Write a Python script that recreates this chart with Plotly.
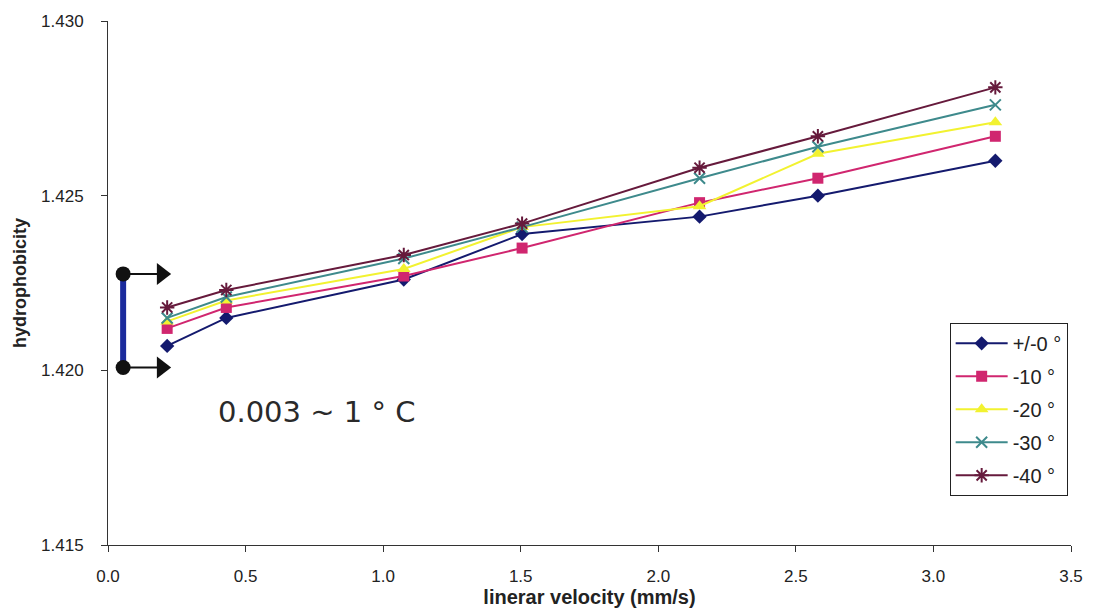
import plotly.graph_objects as go

# ---- data ----
velocity = [0.215, 0.43, 1.075, 1.505, 2.15, 2.58, 3.225]
series_names = ["+/-0 °", "-10 °", "-20 °", "-30 °", "-40 °"]
s_0 = [1.4207, 1.4215, 1.4226, 1.4239, 1.4244, 1.4250, 1.4260]
s_10 = [1.4212, 1.4218, 1.4227, 1.4235, 1.4248, 1.4255, 1.4267]
s_20 = [1.4214, 1.4220, 1.4229, 1.4241, 1.4247, 1.4262, 1.4271]
s_30 = [1.4215, 1.4221, 1.4232, 1.4241, 1.4255, 1.4264, 1.4276]
s_40 = [1.4218, 1.4223, 1.4233, 1.4242, 1.4258, 1.4267, 1.4281]
x_ticks = [0.0, 0.5, 1.0, 1.5, 2.0, 2.5, 3.0, 3.5]
y_ticks = [1.415, 1.420, 1.425, 1.430]

# scale bracket (0.003 ~ 1 °C)
bracket_x = 0.055
bracket_y = [1.42276, 1.42008]
arrow_end_x = 0.195
note_text = "0.003 ~ 1 ° C"
note_x, note_y = 0.756, 1.41882

colors = ["#141a6e", "#d0266f", "#f2f230", "#3e8a8c", "#661a3c"]
symbols = ["diamond", "square", "triangle-up", "x-thin-open", "asterisk-open"]
msizes = [11, 11, 12, 11, 12]
all_series = [s_0, s_10, s_20, s_30, s_40]

FONT = "Liberation Sans, Arial, sans-serif"

fig = go.Figure()
for i, (name, ys) in enumerate(zip(series_names, all_series)):
    open_sym = symbols[i].endswith("open")
    fig.add_trace(go.Scatter(
        x=velocity, y=ys, name=name, mode="lines+markers",
        legendgroup=f"g{i}",
        line=dict(color=colors[i], width=2),
        marker=dict(symbol=symbols[i], size=msizes[i], color=colors[i],
                    line=dict(color=colors[i], width=2 if open_sym else 0)),
    ))

# bracket: vertical bar with end dots
fig.add_trace(go.Scatter(
    x=[bracket_x, bracket_x], y=bracket_y, mode="lines",
    line=dict(color="#1a2a9c", width=6), showlegend=False, hoverinfo="skip"))
# arrows
fig.add_trace(go.Scatter(
    x=[bracket_x, arrow_end_x, None, bracket_x, arrow_end_x],
    y=[bracket_y[0], bracket_y[0], None, bracket_y[1], bracket_y[1]],
    mode="lines", line=dict(color="#111111", width=2),
    showlegend=False, hoverinfo="skip"))
fig.add_trace(go.Scatter(
    x=[arrow_end_x, arrow_end_x], y=bracket_y, mode="markers",
    marker=dict(symbol="triangle-right", size=19, color="#111111"),
    showlegend=False, hoverinfo="skip"))
fig.add_trace(go.Scatter(
    x=[bracket_x, bracket_x], y=bracket_y, mode="markers",
    marker=dict(symbol="circle", size=15, color="#111111"),
    showlegend=False, hoverinfo="skip"))

fig.add_annotation(x=note_x, y=note_y, text=note_text, showarrow=False,
                   font=dict(family="DejaVu Sans, sans-serif", size=29, color="#2a2a2a"))

fig.update_layout(
    width=1099, height=612,
    margin=dict(l=108, r=28, t=20, b=66),
    paper_bgcolor="white", plot_bgcolor="white",
    font=dict(family=FONT, color="#222222"),
    legend=dict(x=0.874, y=0.424, xanchor="left", yanchor="top",
                bordercolor="#222222", borderwidth=1, bgcolor="white",
                font=dict(size=20, family=FONT, color="#222222"),
                tracegroupgap=4, itemwidth=52),
    xaxis=dict(range=[0, 3.5], tickvals=x_ticks,
               ticktext=[f"{v:.1f}" for v in x_ticks],
               showline=True, linecolor="#333333", linewidth=1,
               ticks="outside", ticklen=6, tickcolor="#333333",
               showgrid=False, zeroline=False, ticklabelstandoff=10,
               tickfont=dict(size=17, family=FONT, color="#222222"),
               title=dict(text="<b>linerar velocity (mm/s)</b>",
                          font=dict(size=20, family=FONT, color="#222222"),
                          standoff=0)),
    yaxis=dict(range=[1.415, 1.430], tickvals=y_ticks,
               ticktext=[f"{v:.3f}" for v in y_ticks],
               showline=True, linecolor="#333333", linewidth=1,
               ticks="outside", ticklen=6, tickcolor="#333333",
               showgrid=False, zeroline=False, ticklabelstandoff=14,
               tickfont=dict(size=17, family=FONT, color="#222222"),
               title=dict(text="<b>hydrophobicity</b>",
                          font=dict(size=18, family=FONT, color="#222222"),
                          standoff=9)),
)

fig.write_html("out.html")
